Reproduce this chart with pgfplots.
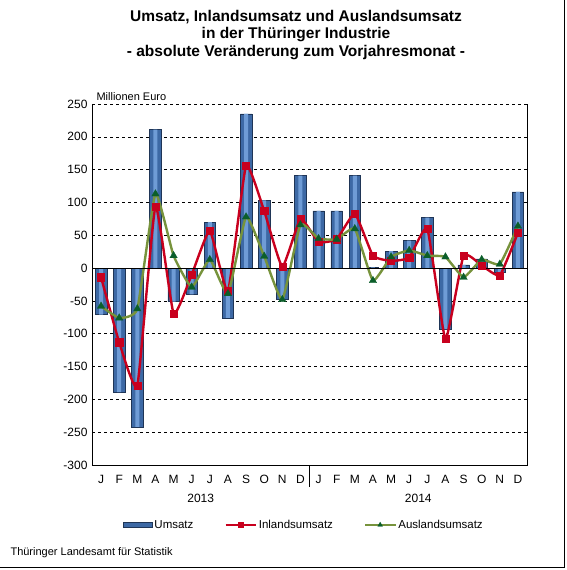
\documentclass[border=0pt]{standalone}
\usepackage{pgfplots}
\pgfplotsset{compat=1.18}
\usepackage{pgfplotstable}
\usepackage{fontspec}
\setmainfont{Liberation Sans}

\definecolor{barFill}{HTML}{3D69A5}
\definecolor{barLight}{HTML}{6F9CD6}
\definecolor{barEdge}{HTML}{1F3556}
\definecolor{inland}{HTML}{C8001E}
\definecolor{auslandLine}{HTML}{77933C}
\definecolor{auslandMark}{HTML}{0B5E2A}

\pgfplotsset{
  barlegend/.style={legend image code/.code={%
    \draw[##1, draw=barEdge] (0pt,-2.5pt) rectangle (29pt,2.5pt);}},
  linelegend/.style={legend image code/.code={%
    \draw[##1, mark repeat=2, mark phase=2, mark size=#1]
      plot coordinates {(0pt,0pt) (15pt,0pt) (30pt,0pt)};}},
}

% Umsatz
\pgfplotstableread{
x y
0 -71
1 -189
2 -242
3 211
4 -51
5 -40
6 70
7 -76
8 235
9 103
10 -48
11 141
12 87
13 87
14 141
15 1
16 26
17 42
18 77
19 -93
20 5
21 14
22 -7
23 116
}\umsatz

\begin{document}
\begin{tikzpicture}[x=1pt,y=1pt]
\useasboundingbox (0,0) rectangle (567,570);
% frame right and bottom
\draw[line width=1pt] (564,570) -- (564,2) -- (0,2);
% title
\node[font=\bfseries\fontsize{15.5}{17.5}\selectfont, align=center] at (296,535)
  {Umsatz, Inlandsumsatz und Auslandsumsatz\\in der Thüringer Industrie\\- absolute Veränderung zum Vorjahresmonat -};
\node[font=\fontsize{11}{13}\selectfont, anchor=west] at (93,473) {Millionen Euro};
\node[font=\fontsize{11}{13}\selectfont, anchor=west] at (7,17) {Thüringer Landesamt für Statistik};

\begin{axis}[
  at={(92pt,105pt)}, anchor=south west,
  scale only axis, width=435pt, height=361pt,
  xmin=-0.5, xmax=23.5, ymin=-300, ymax=250,
  xtick={0,...,23},
  xticklabels={J,F,M,A,M,J,J,A,S,O,N,D,J,F,M,A,M,J,J,A,S,O,N,D},
  ytick={-300,-250,...,250},
  /pgf/number format/assume math mode=true,
  major tick length=0pt,
  ymajorgrids, grid style={black, dashed, line width=0.6pt},
  axis line style={draw=none},
  tick label style={font=\fontsize{12}{14}\selectfont},
  xticklabel style={yshift=-7pt},
  yticklabel style={xshift=-1pt},
  clip=false,
  legend columns=3,
  legend style={at={(0.487,-0.166)}, anchor=center, draw=none, fill=none,
    font=\fontsize{11.5}{14}\selectfont,
    /tikz/every even column/.append style={column sep=29pt}},
]
\addplot[ybar, bar width=11.5pt, draw=barEdge, line width=0.5pt,
  fill=barFill, barlegend] table {\umsatz};
\addlegendentry{Umsatz}
\addplot[ybar, bar width=4pt, draw=none, fill=barLight, forget plot] table {\umsatz};
\addplot[inland, line width=2.4pt, smooth, tension=0.25, mark=square*,
  mark size=3.6pt, mark options={line width=0.4pt}, linelegend=2.5pt]
  coordinates {
  (0,-14) (1,-113) (2,-179) (3,94) (4,-69) (5,-10) (6,57) (7,-35)
  (8,156) (9,87) (10,2) (11,75)
  (12,40) (13,44) (14,83) (15,19) (16,11) (17,16) (18,60) (19,-108)
  (20,19) (21,4) (22,-11) (23,54)};
\addlegendentry{Inlandsumsatz}
\addplot[auslandLine, line width=2.4pt, smooth, tension=0.25, mark=triangle*,
  mark size=4.3pt, mark options={auslandMark, fill=auslandMark, line width=0.3pt},
  linelegend=2.8pt]
  coordinates {
  (0,-58) (1,-76) (2,-62) (3,113) (4,19) (5,-29) (6,13) (7,-39)
  (8,78) (9,18) (10,-48) (11,66)
  (12,45) (13,44) (14,60) (15,-19) (16,17) (17,27) (18,19) (19,17)
  (20,-14) (21,13) (22,6) (23,64)};
\addlegendentry{Auslandsumsatz}
% axes frame (left, bottom, right) and zero line
\draw[black, line width=1pt] (rel axis cs:0,1) -- (rel axis cs:0,0) -- (rel axis cs:1,0) -- (rel axis cs:1,1);
\draw[black, line width=0.9pt] (axis cs:-0.5,0) -- (axis cs:23.5,0);
\draw[black, line width=0.8pt] (axis cs:11.5,-300) -- ([yshift=-22pt]axis cs:11.5,-300);
\node[font=\fontsize{12}{14}\selectfont] at (axis cs:5.5,-300) [yshift=-33pt] {2013};
\node[font=\fontsize{12}{14}\selectfont] at (axis cs:17.5,-300) [yshift=-33pt] {2014};
\end{axis}
\end{tikzpicture}
\end{document}
